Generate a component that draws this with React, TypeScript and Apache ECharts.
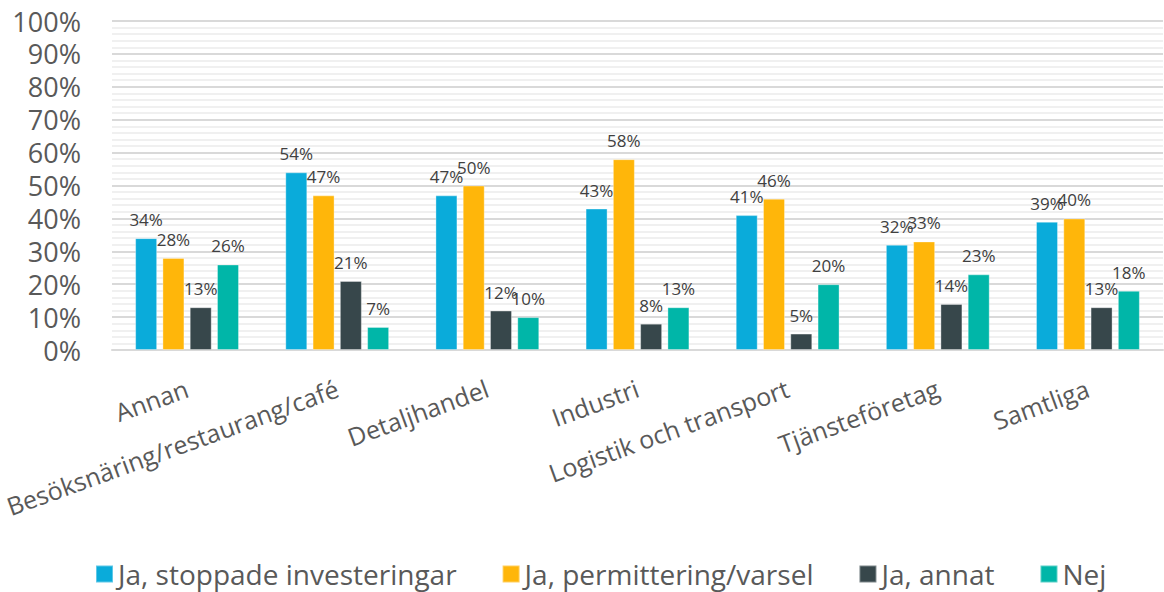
import React, { useEffect, useRef } from 'react';
import * as echarts from 'echarts';

const categories = [
  'Annan',
  'Besöksnäring/restaurang/café',
  'Detaljhandel',
  'Industri',
  'Logistik och transport',
  'Tjänsteföretag',
  'Samtliga',
];
const seriesNames = ['Ja, stoppade investeringar', 'Ja, permittering/varsel', 'Ja, annat', 'Nej'];
const stoppade = [34, 54, 47, 43, 41, 32, 39];
const permittering = [28, 47, 50, 58, 46, 33, 40];
const annat = [13, 21, 12, 8, 5, 14, 13];
const nej = [26, 7, 10, 13, 20, 23, 18];
const colors = ['#0AABDA', '#FFB60A', '#37474B', '#00B6A8'];

const FONT = '"Open Sans", "Noto Sans", sans-serif';

export default function App() {
  const ref = useRef<HTMLDivElement>(null);
  useEffect(() => {
    if (!ref.current) return;
    const chart = echarts.init(ref.current, undefined, { renderer: 'svg' });
    const values = [stoppade, permittering, annat, nej];
    chart.setOption({
      animation: false,
      backgroundColor: '#ffffff',
      textStyle: { fontFamily: FONT },
      grid: { left: 112, right: 1, top: 21, bottom: 242, containLabel: false },
      legend: {
        data: seriesNames,
        left: 95,
        top: 560,
        padding: 0,
        itemWidth: 17,
        itemHeight: 17,
        itemGap: 45,
        icon: 'rect',
        textStyle: { fontFamily: FONT, fontSize: 28, color: '#595959' },
      },
      xAxis: {
        type: 'category',
        data: categories,
        axisLine: { show: true, lineStyle: { color: '#D9D9D9', width: 2 } },
        axisTick: { show: false },
        axisLabel: {
          rotate: 20,
          margin: 37,
          interval: 0,
          fontFamily: FONT,
          fontSize: 25,
          color: '#595959',
        },
      },
      yAxis: {
        type: 'value',
        min: 0,
        max: 100,
        interval: 10,
        axisLine: { show: false },
        axisTick: { show: false },
        axisLabel: {
          formatter: '{value}%',
          fontFamily: FONT,
          fontSize: 27,
          color: '#595959',
          margin: 31,
        },
        splitLine: { show: true, lineStyle: { color: '#D9D9D9', width: 2 } },
        minorTick: { show: false, splitNumber: 5 },
        minorSplitLine: { show: true, lineStyle: { color: '#F0F0F0', width: 2 } },
      },
      series: seriesNames.map((name, i) => ({
        name,
        type: 'bar',
        data: values[i],
        barWidth: 22,
        barGap: '24%',
        itemStyle: { color: colors[i], borderColor: 'rgba(255,255,255,0.35)', borderWidth: 1 },
        label: {
          show: true,
          position: 'top',
          distance: 10,
          formatter: '{c}%',
          fontFamily: FONT,
          fontSize: 17,
          color: '#404040',
        },
      })),
    });
    return () => chart.dispose();
  }, []);
  return (
    <div
      ref={ref}
      style={{ position: 'fixed', left: 0, top: 0, width: 1164, height: 592 }}
    />
  );
}
